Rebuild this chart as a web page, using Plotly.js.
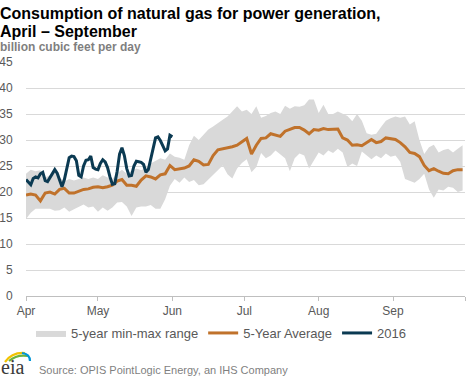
<!DOCTYPE html>
<html>
<head>
<meta charset="utf-8">
<script src="https://cdn.plot.ly/plotly-3.0.1.min.js"></script>
<style>html,body{margin:0;padding:0;background:#fff;}#chart{width:468px;height:378px;}</style>
</head>
<body>
<div id="chart"></div>
<script>
// ---- DATA ----
// 5-year series sampled every 2 days starting April 1 (day offsets 0,2,...,182)
var rangeStartDate = '2016-04-01';
var rangeStepDays = 2;
var avg5yr = [19.4,19.6,19.4,18.3,19.8,20.0,19.6,20.5,20.7,19.8,19.8,20.1,20.5,20.6,20.9,21.0,20.8,21.0,21.3,22.1,
  22.4,21.3,21.3,21.1,22.3,23.1,22.9,22.5,23.3,23.5,25.1,24.3,24.4,24.6,25.0,26.2,25.9,25.2,25.3,27.0,
  28.1,28.3,28.4,28.7,29.0,29.7,30.3,27.3,29.0,30.3,30.4,31.2,31.0,30.7,31.7,32.1,32.4,32.4,31.9,31.2,
  32.0,31.9,32.2,32.0,32.0,32.1,30.4,30.0,29.0,29.1,28.9,29.5,30.1,29.5,29.7,30.4,30.2,30.1,29.5,28.7,
  27.6,27.4,26.8,25.1,24.1,24.5,24.0,23.6,23.5,24.1,24.3,24.3];
var max5yr = [23.5,24.3,24.0,24.2,22.8,23.2,24.0,22.8,22.0,22.5,22.2,22.5,22.8,22.5,22.8,22.5,23.2,22.8,22.5,23.6,
  24.3,23.5,24.0,24.5,24.2,24.6,25.5,26.0,26.5,26.2,27.4,26.8,26.6,26.2,29.0,30.8,30.0,31.0,32.0,32.6,
  33.3,33.9,34.5,35.5,36.5,35.5,35.8,35.0,36.5,34.3,34.6,35.2,35.5,35.0,36.6,36.0,36.5,36.4,36.7,37.8,
  37.8,35.2,36.8,35.0,35.0,35.5,35.0,34.6,33.6,35.0,33.7,31.3,31.0,31.2,32.5,33.7,34.2,34.5,34.3,34.5,
  33.0,33.6,30.0,27.3,28.6,29.1,27.6,28.1,28.3,27.6,28.3,29.0];
var min5yr = [14.8,16.0,16.8,16.8,16.9,16.8,16.4,16.5,17.0,16.2,16.7,17.2,17.6,17.0,17.2,16.2,17.0,16.4,17.0,18.0,
  18.1,17.2,15.4,17.0,17.2,17.2,17.5,16.8,16.8,18.6,21.2,22.5,21.8,22.8,21.9,22.3,21.3,21.5,22.4,23.4,
  24.3,25.1,23.4,22.6,24.5,25.6,26.3,23.8,24.8,27.5,26.5,27.0,28.0,27.3,26.5,24.0,26.5,27.4,27.0,24.5,
  26.0,27.6,27.0,28.0,27.5,28.3,27.6,24.8,25.5,25.0,27.8,27.0,26.3,27.0,26.5,27.4,26.8,27.0,25.8,22.5,
  22.1,21.8,22.5,23.5,20.5,18.9,20.5,20.3,21.0,20.8,20.0,20.3];
// 2016 daily values from April 1
var y2016StartDate = '2016-04-01';
var values2016 = [22.4,21.8,21.4,22.6,22.9,22.7,23.5,23.8,22.2,22.0,22.8,23.6,24.3,23.6,22.2,21.0,22.4,24.6,26.6,26.9,
  26.8,26.0,23.2,22.9,25.0,26.1,26.2,26.9,24.7,24.4,24.3,25.5,26.2,25.8,24.7,22.9,21.5,21.6,24.0,27.3,
  28.5,27.0,24.5,23.1,23.2,25.0,25.9,25.8,25.7,25.3,23.8,24.3,26.2,28.7,30.4,30.6,29.9,28.9,27.9,28.3,
  30.9,30.6];
var monthTickDates = ['2016-04-01','2016-05-01','2016-06-01','2016-07-01','2016-08-01','2016-09-01','2016-10-01'];
var monthTickLabels = ['Apr','May','Jun','Jul','Aug','Sep',''];
var yTickVals = [0,5,10,15,20,25,30,35,40,45];
var seriesNames = ['5-year min-max range','5-Year Average','2016'];
var titleLines = ['Consumption of natural gas for power generation,', 'April – September'];
var unitsLabel = 'billion cubic feet per day';
var sourceNote = 'Source: OPIS PointLogic Energy, an IHS Company';

// ---- helpers ----
function addDays(start, n){
  var p = start.split('-');
  var d = new Date(Date.UTC(+p[0], +p[1]-1, +p[2] + n));
  return d.toISOString().slice(0,10);
}
var xRange = avg5yr.map(function(_, i){ return addDays(rangeStartDate, i*rangeStepDays); });
var x2016 = values2016.map(function(_, i){ return addDays(y2016StartDate, i); });

var W = 468, H = 378, L = 26, R = 3, T = 62, B = 82;
var pw = W - L - R, ph = H - T - B;
function px(x){ return (x - L) / pw; }
function py(y){ return (H - B - y) / ph; }

var FONT = 'Liberation Sans, Arial, sans-serif';
var traces = [
  {x: xRange, y: min5yr, type: 'scatter', mode: 'lines', line: {width: 0, color: '#d9d9d9'},
   showlegend: false, hoverinfo: 'skip'},
  {x: xRange, y: max5yr, type: 'scatter', mode: 'lines', line: {width: 0, color: '#d9d9d9'},
   fill: 'tonexty', fillcolor: '#d9d9d9', name: seriesNames[0]},
  {x: xRange, y: avg5yr, type: 'scatter', mode: 'lines', line: {width: 3, color: '#c0722b'}, name: seriesNames[1]},
  {x: x2016, y: values2016, type: 'scatter', mode: 'lines', line: {width: 3, color: '#0b3a52'}, name: seriesNames[2]}
];

var arc = function(d, c){ return {type:'path', xref:'paper', yref:'paper', path: d, line:{color:c, width:2.2}}; };
function pathPx(pts){
  return pts.map(function(p){ return p[0] + ' ' + px(p[1]) + ',' + py(p[2]) + (p.length>3 ? ' ' + px(p[3]) + ',' + py(p[4]) : ''); }).join(' ');
}
function note(text, x, y, font){
  return {text: text, xref: 'paper', yref: 'paper', x: px(x), y: py(y), xanchor: 'left', yanchor: 'middle',
    showarrow: false, font: font};
}

var layout = {
  width: W, height: H,
  margin: {l: L, r: R, t: T, b: B},
  paper_bgcolor: '#ffffff', plot_bgcolor: '#ffffff',
  font: {family: FONT, size: 12, color: '#595959'},
  title: {text: ''},
  xaxis: {type: 'date', range: ['2016-04-01','2016-10-01'], tickmode: 'array', tickvals: monthTickDates,
    ticktext: monthTickLabels, ticks: 'outside', ticklen: 4, tickcolor: '#bfbfbf', showgrid: false,
    showline: true, linecolor: '#bfbfbf', linewidth: 1, zeroline: false,
    tickfont: {family: FONT, size: 12, color: '#595959'}, fixedrange: true},
  yaxis: {range: [0, 45], tickmode: 'array', tickvals: yTickVals, showgrid: true, gridcolor: '#d9d9d9',
    gridwidth: 1, zeroline: false, showline: false, ticks: 'outside', ticklen: 10, tickcolor: 'rgba(0,0,0,0)',
    tickfont: {family: FONT, size: 12, color: '#595959'}, fixedrange: true},
  showlegend: true,
  legend: {orientation: 'h', traceorder: 'normal', x: px(31), xanchor: 'left', y: py(333), yanchor: 'middle',
    font: {family: FONT, size: 13, color: '#595959'}, itemwidth: 30, tracegroupgap: 0, bgcolor: 'rgba(0,0,0,0)'},
  annotations: [
    note('<b>' + titleLines[0] + '</b>', -2, 13, {family: FONT, size: 16, color: '#000000'}),
    note('<b>' + titleLines[1] + '</b>', -2, 31.5, {family: FONT, size: 16, color: '#000000'}),
    note('<b>' + unitsLabel + '</b>', -2, 47, {family: FONT, size: 12, color: '#7f7f7f'}),
    note(sourceNote, 37, 370, {family: FONT, size: 11, color: '#7f7f7f'}),
    note('eia', -1, 367, {family: 'Liberation Serif, DejaVu Serif, serif', size: 20, color: '#3a3a3a'})
  ],
  shapes: [
    arc(pathPx([['M',5,362],['Q',12,352,25,353]]), '#f2c200'),
    arc(pathPx([['M',9,361],['Q',17,354,28,356]]), '#6cb33f'),
    arc(pathPx([['M',22,353],['Q',30,354,30,361]]), '#0096d7')
  ]
};

Plotly.newPlot('chart', traces, layout, {displayModeBar: false, staticPlot: true});
</script>
</body>
</html>
